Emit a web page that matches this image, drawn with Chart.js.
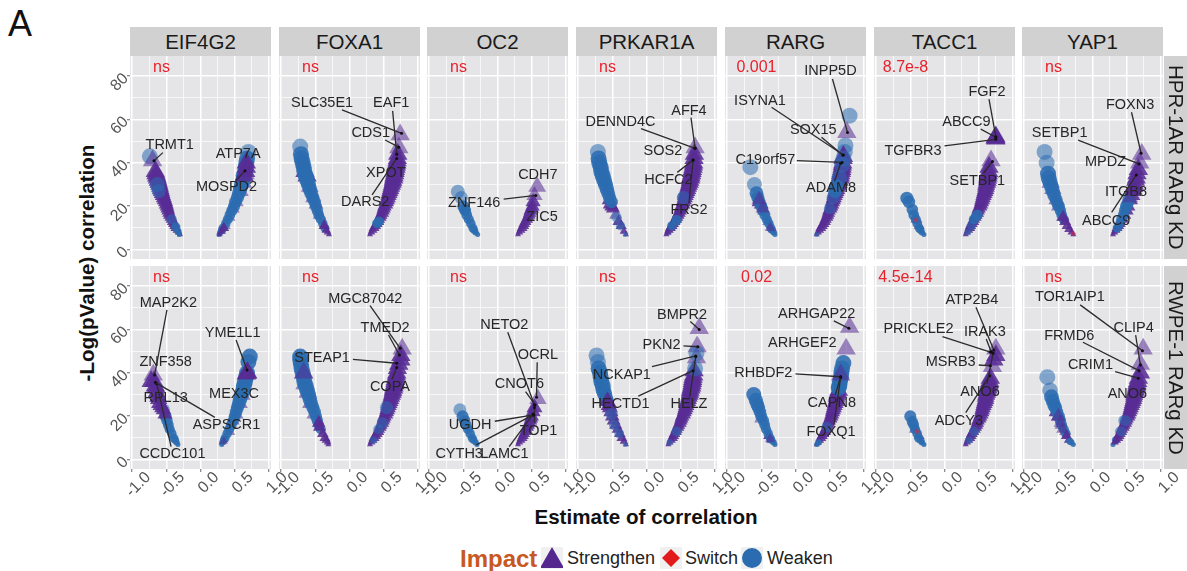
<!DOCTYPE html>
<html lang="en">
<head>
<meta charset="UTF-8" />
<title>Impact</title>
<style>
  body { margin: 0; background: #fff; font-family: "Liberation Sans", Arial, sans-serif; }
  #page { position: relative; width: 1187px; height: 571px; overflow: hidden; }
  canvas { position: absolute; }
  .strip { position: absolute; background: #d1d1d1; color: #1a1a1a; font-size: 20.5px; display: flex; align-items: center; justify-content: center; }
  .side { writing-mode: vertical-rl; }
  .txt { position: absolute; white-space: nowrap; }
  .key { position: absolute; top: 547px; width: 22px; height: 22px; background: #f0f0f0; }
</style>
</head>
<body>
<div id="page">
  <div class="txt" style="left:8px;top:3px;font-size:36px;color:#111">A</div>
  <div class="txt" style="left:87px;top:263px;font-size:20.6px;font-weight:bold;color:#111;transform:translate(-50%,-50%) rotate(-90deg)">-Log(pValue) correlation</div>
  <div class="txt" style="left:646px;top:517px;font-size:20.6px;font-weight:bold;color:#111;transform:translate(-50%,-50%)">Estimate of correlation</div>
  <div class="txt" style="left:460px;top:545px;font-size:24px;font-weight:bold;color:#c8581f">Impact</div>
  <div class="key" style="left:541px"><svg width="22" height="22"><polygon points="11,0 23,21 -1,21" fill="#54278f"/></svg></div>
  <div class="txt" style="left:567px;top:548px;font-size:18px;color:#222">Strengthen</div>
  <div class="key" style="left:660px"><svg width="22" height="22"><polygon points="11,2 20,11 11,20 2,11" fill="#e31a1c"/></svg></div>
  <div class="txt" style="left:685px;top:548px;font-size:18px;color:#222">Switch</div>
  <div class="key" style="left:741px"><svg width="22" height="22"><circle cx="11" cy="11" r="10" fill="#2b6cb0"/></svg></div>
  <div class="txt" style="left:767px;top:548px;font-size:18px;color:#222">Weaken</div>
</div>

<script src="https://cdn.jsdelivr.net/npm/chart.js"></script>
<script>
const S = 'Strengthen', X = 'Switch', W = 'Weaken';
const regulators = ['EIF4G2', 'FOXA1', 'OC2', 'PRKAR1A', 'RARG', 'TACC1', 'YAP1'];
const cellLines = ['HPR-1AR RARg KD', 'RWPE-1 RARg KD'];
const hprSignificance = ['ns', 'ns', 'ns', 'ns', '0.001', '8.7e-8', 'ns'];
const rwpeSignificance = ['ns', 'ns', 'ns', 'ns', '0.02', '4.5e-14', 'ns'];
const xTicks = [-1, -.75, -.5, -.25, 0, .25, .5, .75, 1];
const yTicks = [0, 10, 20, 30, 40, 50, 60, 70, 80];

// marks, drawn in list order
const hEIF4G2 = [
  [S, [[.36,11],[.42,15],[.47,19],[.52,22],[.58,27],[.62,31],[.65,35]]],
  [W, [[.27,7],[.29,8],[.31,9],[.33,10],[.37,12],[.40,14],[.43,16],[.46,18],[.49,20],[.51,22],[.54,24],[.56,26],[.58,28],[.60,30],[.62,32],[.63,34],[.65,36],[.66,38],[.67,40],[.68,42],[.70,45]]],
  [S, [[.28,7],[.31,8.5],[.34,10],[.64,34],[.66,36],[.67,38],[.67,40]]],
  [S, [[-.30,7],[-.32,8],[-.34,9],[-.36,10],[-.375,11],[-.39,12],[-.405,13],[-.42,14],[-.435,15],[-.45,16],[-.46,17],[-.47,18],[-.48,19],[-.49,20],[-.50,21],[-.51,22],[-.525,23],[-.535,24],[-.55,25],[-.56,26],[-.57,27],[-.58,28],[-.59,29],[-.60,30],[-.61,31],[-.62,32],[-.63,33],[-.64,34],[-.65,35],[-.66,36]]],
  [W, [[-.74,43],[-.63,30],[-.61,27],[-.42,14],[-.36,10.5],[-.33,8.5],[-.31,7]]],
  [S, [[-.70,41]]],
];
const hFOXA1 = [
  [S, [[-.44,16],[-.49,21],[-.53,24],[-.58,29],[-.62,34],[-.65,36]]],
  [W, [[-.72,47.5],[-.71,44],[-.70,42],[-.685,40],[-.67,38],[-.66,36],[-.64,34],[-.62,32],[-.60,30],[-.58,28],[-.56,26],[-.535,24],[-.51,22],[-.49,20],[-.47,18],[-.45,16],[-.42,14],[-.39,12],[-.36,10]]],
  [S, [[-.30,7],[-.32,8],[-.34,9],[-.37,11]]],
  [S, [[.30,7],[.32,8],[.34,9],[.36,10],[.38,11],[.40,12],[.42,13],[.43,14],[.45,15],[.46,16],[.48,17],[.49,18],[.50,19],[.51,20],[.53,21],[.54,22],[.55,23],[.56,24],[.57,25],[.58,26],[.59,27],[.60,28],[.61,29],[.62,30],[.63,31],[.635,32],[.645,33],[.65,34],[.66,35],[.665,36],[.67,37],[.68,38],[.685,39],[.69,40],[.695,41],[.70,42],[.705,44],[.72,47],[.74,53]]],
  [W, [[.40,12],[.43,13]]],
];
const hOC2 = [
  [W, [[-.58,26.7],[-.53,24],[-.50,20],[-.48,18.5],[-.47,18],[-.45,16],[-.42,14],[-.39,12],[-.36,10],[-.34,9],[-.32,8],[-.29,7]]],
  [S, [[.30,7],[.32,8],[.34,9],[.36,10],[.38,11],[.39,12],[.41,13],[.43,14],[.445,15],[.46,16],[.47,17],[.48,18],[.50,19],[.51,20],[.52,22],[.54,25],[.58,29]]],
];
const hPRKAR1A = [
  [S, [[-.30,7],[-.33,8.5],[-.37,11],[-.41,13],[-.45,16],[-.49,19],[-.51,20],[-.53,21],[-.54,23]]],
  [W, [[-.71,45],[-.70,42],[-.69,40],[-.67,38],[-.66,36],[-.64,34],[-.62,32],[-.60,30],[-.58,28],[-.56,26],[-.54,24],[-.51,22]]],
  [W, [[-.44,15],[-.38,11],[-.31,7]]],
  [W, [[.32,8],[.38,11],[.44,14],[.50,18],[.54,24]]],
  [S, [[.29,7],[.31,8],[.33,9],[.35,10],[.37,11],[.39,12],[.41,13],[.43,14],[.445,15],[.46,16],[.475,17],[.49,18],[.50,19],[.51,20],[.53,21],[.54,22],[.55,23],[.56,24],[.57,25],[.58,26],[.59,27],[.60,28],[.61,29],[.62,30],[.63,31],[.635,32],[.645,33],[.65,34],[.66,35],[.665,36],[.67,37],[.68,38],[.685,39],[.69,40],[.695,42],[.70,44],[.71,47]]],
  [W, [[.37,11],[.44,13.6],[.54,24]]],
];
const hRARG = [
  [S, [[-.40,13],[-.46,18],[-.50,21],[-.53,22],[-.33,9]]],
  [W, [[-.66,38],[-.60,30],[-.57,26],[-.55,24],[-.53,22],[-.50,20],[-.48,18],[-.45,16],[-.42,14],[-.39,12],[-.36,10],[-.34,9],[-.32,8],[-.30,7]]],
  [S, [[-.37,10],[-.48,19],[-.53,23]]],
  [W, [[.79,61.7],[.73,48],[.72,45]]],
  [S, [[.31,7],[.33,8],[.35,9],[.37,10],[.39,11],[.41,12],[.43,13],[.44,14],[.46,15],[.47,16],[.48,17],[.49,18],[.51,19],[.52,20],[.53,21],[.54,22],[.55,23],[.56,24],[.57,25],[.58,26],[.59,27],[.60,28],[.61,29],[.62,30],[.63,31],[.64,32],[.65,33],[.655,34],[.66,35],[.67,36],[.675,37],[.68,38],[.685,39],[.69,40],[.695,42],[.70,43],[.75,54]]],
  [W, [[.31,7],[.50,19],[.55,24],[.58,27],[.60,29],[.64,33],[.68,39],[.70,42]]],
];
const hTACC1 = [
  [S, [[-.37,11],[-.41,14]]],
  [W, [[-.55,23.7],[-.52,22],[-.47,18.5],[-.45,16],[-.42,14],[-.40,12],[-.37,10],[-.35,9],[-.33,8],[-.30,7]]],
  [X, [[-.42,13.7]]],
  [S, [[.31,7],[.33,8],[.35,9],[.37,10],[.38,11],[.40,12],[.42,13],[.43,14],[.45,15],[.46,16],[.48,17],[.49,18],[.50,19],[.52,20],[.53,21],[.54,22],[.55,23],[.56,24],[.57,25],[.58,26],[.59,27],[.60,28],[.605,29],[.61,30],[.62,31],[.625,32],[.63,33],[.635,34],[.64,35],[.645,36],[.65,38],[.68,41]]],
  [W, [[.34,8],[.39,11],[.43,14],[.48,16]]],
  [S, [[.75,51.5],[.75,51],[.75,52],[.74,51.5]]],
];
const hYAP1 = [
  [S, [[-.44,15],[-.50,20],[-.53,23],[-.58,28],[-.61,31]]],
  [W, [[-.70,45],[-.67,40],[-.65,35],[-.64,33],[-.62,31],[-.60,29],[-.58,27],[-.56,25],[-.53,23],[-.51,21],[-.49,20],[-.47,18],[-.45,16],[-.42,14]]],
  [S, [[-.28,7],[-.31,8],[-.34,9.5],[-.37,11],[-.40,13],[-.43,15]]],
  [X, [[-.28,7.5]]],
  [S, [[.30,7],[.32,8],[.34,9],[.36,10],[.38,11],[.40,12],[.44,14],[.47,16],[.50,18],[.52,20],[.55,23],[.58,25],[.59,27],[.60,28],[.61,29],[.62,30],[.63,32],[.64,33],[.65,35],[.67,37],[.69,40],[.72,44]]],
  [W, [[.36,10],[.40,12],[.42,14],[.45,16],[.47,18],[.49,20],[.51,21],[.53,23]]],
  [S, [[.55,24],[.58,27]]],
];
const rEIF4G2 = [
  [W, [[-.33,7],[-.35,8],[-.37,9],[-.39,10],[-.42,12],[-.45,14],[-.47,16],[-.49,18],[-.51,20],[-.54,23]]],
  [S, [[-.69,39],[-.72,36],[-.68,36],[-.66,34],[-.65,33],[-.64,31],[-.62,29],[-.61,28],[-.60,26],[-.58,25],[-.56,24],[-.54,23],[-.52,21]]],
  [S, [[.42,13],[.47,18],[.52,21],[.57,26],[.60,30],[.32,8]]],
  [W, [[.72,47.5],[.70,45],[.68,40],[.665,38],[.65,36],[.635,34],[.62,32],[.60,30],[.58,28],[.56,26],[.54,24],[.52,22],[.50,20],[.48,18],[.45,16],[.42,14],[.39,12],[.36,10],[.34,9],[.32,8],[.31,7]]],
  [S, [[.68,40],[.67,39.5],[.69,40],[.34,8.5]]],
];
const rFOXA1 = [
  [S, [[-.52,21],[-.57,26],[-.61,31],[-.65,35],[-.67,40]]],
  [W, [[-.72,47.5],[-.72,46],[-.71,44],[-.70,42],[-.685,40],[-.67,38],[-.66,36],[-.64,34],[-.62,32],[-.60,30],[-.58,28],[-.56,26],[-.535,24],[-.51,22],[-.49,20],[-.47,18],[-.45,16],[-.42,14]]],
  [S, [[-.67,40],[-.45,17],[-.44,15],[-.39,12],[-.36,10],[-.34,9],[-.32,8],[-.31,7]]],
  [S, [[.30,7],[.32,8],[.34,9],[.36,10],[.38,11],[.40,12],[.42,13],[.43,14],[.45,15],[.46,16],[.48,17],[.49,18],[.50,19],[.51,20],[.53,21],[.54,22],[.55,23],[.56,24],[.57,25],[.58,26],[.59,27],[.60,28],[.61,29],[.62,30],[.63,31],[.635,32],[.645,33],[.65,34],[.66,35],[.665,36],[.67,37],[.68,38],[.685,39],[.69,40],[.70,42],[.72,44],[.75,46],[.75,48],[.77,51]]],
  [W, [[.35,9],[.42,14],[.48,17],[.54,24]]],
];
const rOC2 = [
  [W, [[-.55,23],[-.51,20],[-.48,18],[-.46,16],[-.43,14],[-.40,12],[-.37,10],[-.35,9],[-.32,8],[-.30,7]]],
  [S, [[.30,7],[.32,8],[.34,9],[.36,10],[.375,11],[.39,12],[.41,13],[.42,14],[.44,15],[.45,16],[.465,17],[.48,18],[.49,19],[.50,20],[.52,22],[.54,24],[.59,28]]],
];
const rPRKAR1A = [
  [W, [[-.73,48],[-.71,45],[-.70,42],[-.68,40],[-.67,38],[-.66,36],[-.64,34],[-.63,32],[-.61,30],[-.59,28],[-.58,27]]],
  [S, [[-.57,27],[-.55,25],[-.535,24],[-.52,22],[-.50,20],[-.48,18],[-.45,16],[-.42,14],[-.39,12],[-.36,10],[-.33,8.5],[-.30,7]]],
  [W, [[-.51,21],[-.47,16],[-.40,12],[-.31,7]]],
  [S, [[.32,7],[.34,8],[.36,9],[.38,10],[.395,11],[.41,12],[.43,13],[.44,14],[.46,15],[.47,16],[.49,17],[.50,18],[.51,19],[.52,20],[.54,21],[.55,22],[.56,23],[.57,24],[.58,25],[.59,26],[.60,27],[.61,28],[.62,29],[.63,30],[.635,31],[.64,32],[.65,33],[.66,34],[.665,35],[.67,36],[.675,37],[.68,38],[.69,39],[.695,41],[.73,47],[.74,52],[.77,60.5]]],
  [W, [[.34,8],[.44,13],[.71,42],[.73,49]]],
];
const rRARG = [
  [S, [[-.36,9],[-.39,11],[-.50,19]]],
  [W, [[-.61,30],[-.58,27.5],[-.56,25.5],[-.54,24],[-.52,22],[-.50,20],[-.47,18],[-.45,16],[-.43,14],[-.40,12],[-.37,10],[-.35,9],[-.32,8],[-.30,7]]],
  [S, [[-.37,9.5]]],
  [S, [[.31,7],[.33,8],[.35,9],[.37,10],[.39,11],[.41,12],[.43,13],[.44,14],[.46,15],[.47,16],[.48,17],[.49,18],[.51,19],[.52,20],[.53,21],[.54,22],[.55,23],[.56,24],[.57,25],[.58,26],[.59,27],[.60,28],[.60,29],[.61,30],[.62,31],[.63,32],[.74,51],[.79,61]]],
  [W, [[.70,44.5],[.68,42],[.67,40],[.665,38],[.65,36],[.64,34],[.63,33],[.46,15],[.34,8],[.31,7]]],
  [S, [[.66,39]]],
];
const rTACC1 = [
  [S, [[-.37,11],[-.43,14]]],
  [W, [[-.50,20],[-.47,17.5],[-.45,16],[-.43,14],[-.40,12],[-.38,10],[-.35,9],[-.33,8],[-.30,7]]],
  [X, [[-.40,13]]],
  [S, [[.31,7],[.33,8],[.35,9],[.37,10],[.385,11],[.40,12],[.42,13],[.44,14],[.455,15],[.47,16],[.48,17],[.49,18],[.51,19],[.52,20],[.535,21],[.545,22],[.55,23],[.56,24],[.57,25],[.58,26],[.59,27],[.60,28],[.60,29],[.61,30],[.62,31],[.63,32],[.635,33],[.64,34],[.65,35],[.66,36],[.67,37.5],[.70,43],[.72,46],[.75,48],[.75,51]]],
  [W, [[.36,9],[.43,13]]],
];
const rYAP1 = [
  [S, [[-.40,13],[-.46,16],[-.50,20],[-.53,22]]],
  [W, [[-.66,38],[-.62,32],[-.60,29],[-.58,27],[-.56,25],[-.54,24],[-.52,22],[-.49,20],[-.47,18],[-.45,16],[-.42,14],[-.39,12]]],
  [S, [[-.50,20],[-.47,17],[-.44,14],[-.38,11],[-.35,9]]],
  [W, [[-.33,8.5],[-.31,8],[-.28,7]]],
  [W, [[.30,7],[.34,9],[.40,13],[.46,18]]],
  [S, [[.33,8],[.35,9],[.37,10],[.385,11],[.40,12],[.42,13],[.43,14],[.45,15],[.46,16],[.48,17],[.49,18],[.50,19],[.52,20],[.53,21],[.54,22],[.55,23],[.56,24],[.57,25],[.58,26],[.59,27],[.60,28],[.605,29],[.61,30],[.62,31],[.63,32],[.64,33],[.645,34],[.65,35],[.66,36],[.67,37.5],[.70,40],[.70,44],[.74,51]]],
  [W, [[.42,13],[.48,18]]],
];

// gene name, label x, y, then the leader line start x, y and end x, y
const hEIF4G2Genes = [['TRMT1',-.45,48.2,-.55,44.7,-.68,40.9],['ATP7A',.55,44],['MOSPD2',.38,28.7,.52,32,.65,36.3]];
const hFOXA1Genes = [['SLC35E1',-.40,67.4,-.11,64.4,.76,53.6],['EAF1',.61,67.4,.63,63.9,.69,44],['CDS1',.31,53.9,.52,50.5,.72,47.2],['XPOT',.53,35.2],['DARS2',.23,21.8,.33,25.2,.69,42]];
const hOC2Genes = [['CDH7',.59,34.4],['ZNF146',-.34,21.7,.09,23.3,.56,25],['ZIC5',.65,15.2]];
const hPRKAR1AGenes = [['AFF4',.62,64,.65,60.8,.71,46.7],['DENND4C',-.38,59,-.08,55.8,.71,46.7],['SOS2',.24,45.5],['HCFC2',.32,32.1,.45,35.6,.68,41.3],['FRS2',.62,18.3,.62,21.4,.68,41.3]];
const hRARGGenes = [['INPP5D',.51,82.3,.54,78.6,.76,54],['ISYNA1',-.52,68.7,-.35,65.6,.70,43.6],['SOX15',.26,55.1,.38,51.8,.69,43.6],['C19orf57',-.44,41.3,.02,41,.68,40.2],['ADAM8',.52,28.3,.57,31.5,.66,39.8]];
const hTACC1Genes = [['FGF2',.62,72.7,.65,69.3,.75,52],['ABCC9',.32,58.7,.53,55.5,.75,51.8],['TGFBR3',-.46,45.5,0,47.8,.75,50.8],['SETBP1',.48,31.6,.57,35.2,.70,40.6]];
const hYAP1Genes = [['FOXN3',.55,66.7,.57,63.3,.71,44.4],['SETBP1',-.48,53.9,-.21,50.5,.68,39.5],['MPDZ',.19,40.2],['ITGB8',.49,26.7],['ABCC9',.20,13.4,.28,17.2,.64,34.4]];
const rEIF4G2Genes = [['MAP2K2',-.47,72.3,-.49,69,-.67,39],['ZNF358',-.51,45.2],['RPL13',-.51,28.3],['ASPSCR1',.38,16,.21,19.5,-.66,35.6],['CCDC101',-.41,2.5,-.43,6,-.64,35],['YME1L1',.47,58.5,.52,55.1,.68,41.3],['MEX3C',.49,30.1]];
const rFOXA1Genes = [['MGC87042',.23,74,.30,71,.74,51.3],['TMED2',.52,60.5,.57,57.4,.73,48.2],['STEAP1',-.40,47,.05,46.2,.69,44.4],['COPA',.59,33.6,.62,37,.69,42.5]];
const rOC2Genes = [['NETO2',.10,61.9,.15,58.7,.54,25.2],['OCRL',.59,48.2,.58,44.9,.57,28.7],['CNOT6',.32,34.7,.41,31.3,.55,25.2],['UGDH',-.40,16.1,-.04,17.7,.53,20.6],['CYTH3',-.56,2.5,-.31,6.8,.52,20.6],['LAMC1',.10,2.5,.17,6,.52,21],['TOP1',.60,13.4,.54,17,.54,24]];
const rPRKAR1AGenes = [['BMPR2',.52,66.7,.64,63.6,.77,60],['PKN2',.22,52.8,.54,52.4,.75,52],['NCKAP1',-.36,39,.08,42.9,.72,47.8],['HECTD1',-.38,25.7,-.12,29.3,.68,41],['HELZ',.62,25.7,.63,28.7,.72,47.5]];
const rRARGGenes = [['ARHGAP22',.31,67.1,.56,63.9,.78,60.5],['ARHGEF2',.10,53.6],['RHBDF2',-.47,39.8,0,39.5,.66,38.2],['CAPN8',.53,26.3,.58,29.8,.66,38.2],['FOXQ1',.52,12.6,.56,16,.66,37.9]];
const rTACC1Genes = [['ATP2B4',.40,73.6,.46,70.2,.72,50.5],['PRICKLE2',-.38,60.2,-.03,56.7,.67,49.5],['IRAK3',.59,59,.61,55.6,.68,49.8],['MSRB3',.09,45.2,.50,43.6,.67,43.2],['ANO6',.52,31.3,.62,34.9,.71,49],['ADCY3',.21,17.8,.31,21.7,.66,38.6]];
const rYAP1Genes = [['TOR1AIP1',-.33,74.8,-.18,71.3,.73,50.2],['CLIP4',.60,60.5,.63,57.4,.70,43.6],['FRMD6',-.34,57.1,-.14,54.1,.68,41],['CRIM1',-.03,43.6,.33,40.6,.67,37.5],['ANO6',.51,30.1]];

const hprMarks = [hEIF4G2, hFOXA1, hOC2, hPRKAR1A, hRARG, hTACC1, hYAP1];
const rwpeMarks = [rEIF4G2, rFOXA1, rOC2, rPRKAR1A, rRARG, rTACC1, rYAP1];
const hprGenes = [hEIF4G2Genes, hFOXA1Genes, hOC2Genes, hPRKAR1AGenes, hRARGGenes, hTACC1Genes, hYAP1Genes];
const rwpeGenes = [rEIF4G2Genes, rFOXA1Genes, rOC2Genes, rPRKAR1AGenes, rRARGGenes, rTACC1Genes, rYAP1Genes];

const colLefts = [130, 279, 427, 576, 725, 874, 1022];
const rowTops = [56, 266];
const panelW = 141, panelH = 203, axisW = 40, axisH = 48, overhang = 34;
const page = document.getElementById('page');
const markStyles = { [S]: 'triangle', [X]: 'rectRot', [W]: 'circle' };
const markRgb = { [S]: '88,44,148', [X]: '214,40,70', [W]: '43,108,176' };

// marker size grows with the p value, like the size scale of the original
function markSize(y, kind) {
  const r = y < 10 ? 2.5 + (y - 7) * 0.67 : Math.min(8, 4.5 + (y - 10) * 0.15);
  if (kind === X) return 3;
  return kind === S ? r * 1.4 : r;
}

// the arcs are heavily overplotted in the original, so marks with a close
// neighbour in their list are near solid and lone ones stay see through
function markColor(kind, pts, i) {
  const crowded = pts.some((p, j) => j !== i && Math.abs(p[1] - pts[i][1]) <= 2.6);
  return `rgba(${markRgb[kind]},${crowded ? .88 : .55})`;
}

function fixPadding(s) { s.paddingLeft = s.paddingRight = s.paddingTop = s.paddingBottom = 0; }

const panelDecor = {
  id: 'panelDecor',
  beforeDraw(chart) {
    const a = chart.chartArea, c = chart.ctx;
    c.save();
    c.fillStyle = '#e5e5e7';
    c.fillRect(a.left, a.top, a.right - a.left, a.bottom - a.top);
    c.restore();
  },
  afterDatasetsDraw(chart, args, opts) {
    const c = chart.ctx, sx = chart.scales.x, sy = chart.scales.y;
    c.save();
    c.textAlign = 'center';
    c.textBaseline = 'middle';
    c.font = '16px "Liberation Sans", Arial, sans-serif';
    c.fillStyle = '#e8212b';
    c.fillText(opts.sig, sx.getPixelForValue(-.57), sy.getPixelForValue(83.8));
    c.font = '14.5px "Liberation Sans", Arial, sans-serif';
    c.fillStyle = '#262626';
    opts.genes.forEach(g => c.fillText(g[0], sx.getPixelForValue(g[1]), sy.getPixelForValue(g[2])));
    c.restore();
  }
};

function makePanel(row, col, title, sig, marks, genes) {
  const cv = document.createElement('canvas');
  cv.width = axisW + panelW + overhang;
  cv.height = panelH + axisH;
  cv.style.left = (colLefts[col] - axisW) + 'px';
  cv.style.top = rowTops[row] + 'px';
  page.appendChild(cv);

  // chart.js draws the first dataset last, so lines go first and marks reversed
  const lines = genes.filter(g => g.length > 3).map(g => ({
    data: [{ x: g[3], y: g[4] }, { x: g[5], y: g[6] }],
    showLine: true,
    borderColor: '#2b2b2b',
    borderWidth: 1.3,
    pointRadius: [0, 1.5],
    pointBackgroundColor: '#111',
    pointBorderWidth: 0
  }));
  const layers = marks.slice().reverse().map(m => ({
    label: m[0],
    data: m[1].map(p => ({ x: p[0], y: p[1] })),
    pointStyle: markStyles[m[0]],
    pointBackgroundColor: m[1].map((p, i) => markColor(m[0], m[1], i)),
    pointRadius: m[1].map(p => markSize(p[1], m[0])),
    pointBorderWidth: 0
  }));

  new Chart(cv.getContext('2d'), {
    type: 'scatter',
    data: { datasets: lines.concat(layers) },
    plugins: [panelDecor],
    options: {
      responsive: false,
      animation: false,
      layout: { autoPadding: false, padding: { left: 0, right: overhang, top: 0, bottom: 0 } },
      plugins: { legend: { display: false }, tooltip: { enabled: false }, panelDecor: { sig: sig, genes: genes } },
      scales: {
        x: {
          min: -1.03, max: 1.03,
          afterBuildTicks: s => { s.ticks = xTicks.map(v => ({ value: v })); },
          afterFit: s => { s.height = axisH; fixPadding(s); },
          border: { display: false },
          grid: {
            color: '#fff',
            lineWidth: c => (c.tick.value * 2) % 1 === 0 ? 1.5 : 0.7,
            drawTicks: row === 1,
            tickLength: 3,
            tickColor: c => (c.tick.value * 2) % 1 === 0 ? '#666' : 'transparent',
            tickWidth: 1
          },
          ticks: {
            display: row === 1,
            autoSkip: false,
            minRotation: 45, maxRotation: 45,
            padding: -4,
            labelOffset: 16,
            color: '#555',
            font: { size: 16, family: '"Liberation Sans", Arial, sans-serif' },
            callback: v => (v * 2) % 1 === 0 ? v.toFixed(1) : ''
          }
        },
        y: {
          min: -4.3, max: 89.2,
          afterBuildTicks: s => { s.ticks = yTicks.map(v => ({ value: v })); },
          afterFit: s => { s.width = axisW; fixPadding(s); },
          border: { display: false },
          grid: {
            color: '#fff',
            lineWidth: c => c.tick.value % 20 === 0 ? 1.5 : 0.7,
            drawTicks: col === 0,
            tickLength: 3,
            tickColor: c => c.tick.value % 20 === 0 ? '#666' : 'transparent',
            tickWidth: 1
          },
          ticks: {
            display: col === 0,
            autoSkip: false,
            minRotation: 45, maxRotation: 45,
            padding: 1,
            color: '#555',
            font: { size: 16, family: '"Liberation Sans", Arial, sans-serif' },
            callback: v => v % 20 === 0 ? String(v) : ''
          }
        }
      }
    }
  });
}

regulators.forEach((name, i) => {
  const s = document.createElement('div');
  s.className = 'strip';
  s.style.cssText = `left:${colLefts[i]}px;top:27px;width:${panelW}px;height:29px`;
  s.textContent = name;
  page.appendChild(s);
  makePanel(0, i, name, hprSignificance[i], hprMarks[i], hprGenes[i]);
  makePanel(1, i, name, rwpeSignificance[i], rwpeMarks[i], rwpeGenes[i]);
});
cellLines.forEach((name, i) => {
  const s = document.createElement('div');
  s.className = 'strip side';
  s.style.cssText = `left:1164px;top:${rowTops[i]}px;width:23px;height:${panelH}px`;
  s.textContent = name;
  page.appendChild(s);
});
</script>
</body>
</html>
